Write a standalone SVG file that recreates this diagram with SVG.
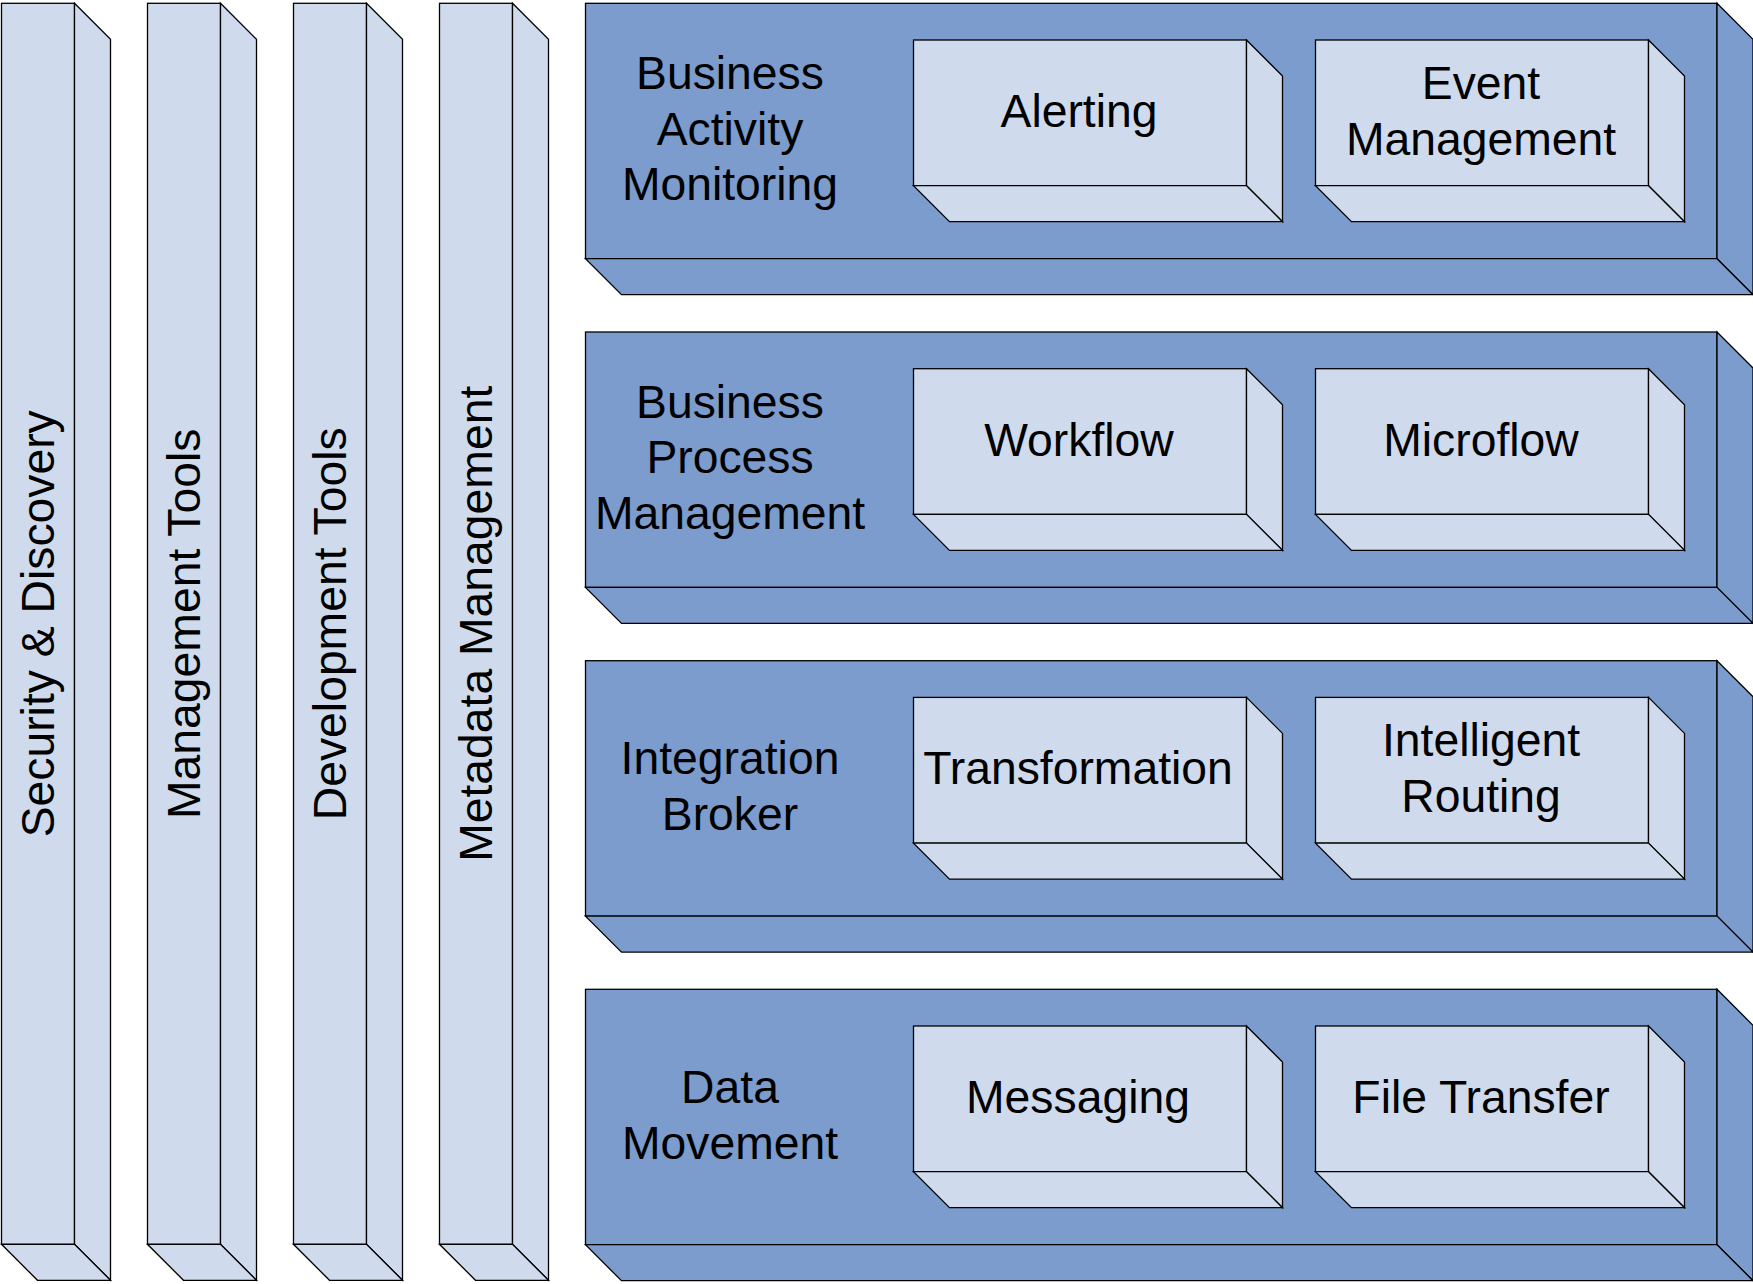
<svg xmlns="http://www.w3.org/2000/svg" width="1753" height="1284" viewBox="0 0 1753 1284">
<style>
.lt{fill:#CFDBEC;stroke:#000;stroke-width:1.3;stroke-linejoin:miter}
.bl{fill:#7B9CCD;stroke:#000;stroke-width:1.3;stroke-linejoin:miter}
.t{font-family:"Liberation Sans",Arial,sans-serif;font-size:46.3px;fill:#000;text-anchor:middle}
</style>
<rect width="1753" height="1284" fill="#fff"/>
<g id="pillar-security">
<rect class="lt" x="1.5" y="3.3" width="73" height="1241"/>
<polygon class="lt" points="74.5,3.3 110.5,39.3 110.5,1280.3 74.5,1244.3"/>
<polygon class="lt" points="1.5,1244.3 74.5,1244.3 110.5,1280.3 37.5,1280.3"/>
<text class="t" transform="translate(53.5,623.8) rotate(-90)">Security &amp; Discovery</text>
</g>
<g id="pillar-management">
<rect class="lt" x="147.5" y="3.3" width="73" height="1241"/>
<polygon class="lt" points="220.5,3.3 256.5,39.3 256.5,1280.3 220.5,1244.3"/>
<polygon class="lt" points="147.5,1244.3 220.5,1244.3 256.5,1280.3 183.5,1280.3"/>
<text class="t" transform="translate(199.5,623.8) rotate(-90)">Management Tools</text>
</g>
<g id="pillar-development">
<rect class="lt" x="293.5" y="3.3" width="73" height="1241"/>
<polygon class="lt" points="366.5,3.3 402.5,39.3 402.5,1280.3 366.5,1244.3"/>
<polygon class="lt" points="293.5,1244.3 366.5,1244.3 402.5,1280.3 329.5,1280.3"/>
<text class="t" transform="translate(345.5,623.8) rotate(-90)">Development Tools</text>
</g>
<g id="pillar-metadata">
<rect class="lt" x="439.5" y="3.3" width="73" height="1241"/>
<polygon class="lt" points="512.5,3.3 548.5,39.3 548.5,1280.3 512.5,1244.3"/>
<polygon class="lt" points="439.5,1244.3 512.5,1244.3 548.5,1280.3 475.5,1280.3"/>
<text class="t" transform="translate(491.5,623.8) rotate(-90)">Metadata Management</text>
</g>

<g id="layer-bam">
<rect class="bl" x="585.5" y="3.3" width="1131.5" height="255.4"/>
<polygon class="bl" points="1717,3.3 1753,39.3 1753,294.7 1717,258.7"/>
<polygon class="bl" points="585.5,258.7 1717,258.7 1753,294.7 621.5,294.7"/>
<text class="t" x="730" y="89">Business</text>
<text class="t" x="730" y="144.5">Activity</text>
<text class="t" x="730" y="200">Monitoring</text>
</g>
<g id="box-alerting">
<rect class="lt" x="913.5" y="40" width="333" height="145.7"/>
<polygon class="lt" points="1246.5,40 1282.5,76 1282.5,221.7 1246.5,185.7"/>
<polygon class="lt" points="913.5,185.7 1246.5,185.7 1282.5,221.7 949.5,221.7"/>
<text class="t" x="1079" y="127">Alerting</text>
</g>
<g id="box-event">
<rect class="lt" x="1315.5" y="40" width="333" height="145.7"/>
<polygon class="lt" points="1648.5,40 1684.5,76 1684.5,221.7 1648.5,185.7"/>
<polygon class="lt" points="1315.5,185.7 1648.5,185.7 1684.5,221.7 1351.5,221.7"/>
<text class="t" x="1481" y="99">Event</text>
<text class="t" x="1481" y="154.5">Management</text>
</g>

<g id="layer-bpm">
<rect class="bl" x="585.5" y="332" width="1131.5" height="255.4"/>
<polygon class="bl" points="1717,332 1753,368 1753,623.4 1717,587.4"/>
<polygon class="bl" points="585.5,587.4 1717,587.4 1753,623.4 621.5,623.4"/>
<text class="t" x="730" y="417.7">Business</text>
<text class="t" x="730" y="473.2">Process</text>
<text class="t" x="730" y="528.7">Management</text>
</g>
<g id="box-workflow">
<rect class="lt" x="913.5" y="368.7" width="333" height="145.7"/>
<polygon class="lt" points="1246.5,368.7 1282.5,404.7 1282.5,550.4 1246.5,514.4"/>
<polygon class="lt" points="913.5,514.4 1246.5,514.4 1282.5,550.4 949.5,550.4"/>
<text class="t" x="1079" y="455.7">Workflow</text>
</g>
<g id="box-microflow">
<rect class="lt" x="1315.5" y="368.7" width="333" height="145.7"/>
<polygon class="lt" points="1648.5,368.7 1684.5,404.7 1684.5,550.4 1648.5,514.4"/>
<polygon class="lt" points="1315.5,514.4 1648.5,514.4 1684.5,550.4 1351.5,550.4"/>
<text class="t" x="1481" y="455.7">Microflow</text>
</g>

<g id="layer-broker">
<rect class="bl" x="585.5" y="660.7" width="1131.5" height="255.4"/>
<polygon class="bl" points="1717,660.7 1753,696.7 1753,952.1 1717,916.1"/>
<polygon class="bl" points="585.5,916.1 1717,916.1 1753,952.1 621.5,952.1"/>
<text class="t" x="730" y="774.3">Integration</text>
<text class="t" x="730" y="829.8">Broker</text>
</g>
<g id="box-transformation">
<rect class="lt" x="913.5" y="697.4" width="333" height="145.7"/>
<polygon class="lt" points="1246.5,697.4 1282.5,733.4 1282.5,879.1 1246.5,843.1"/>
<polygon class="lt" points="913.5,843.1 1246.5,843.1 1282.5,879.1 949.5,879.1"/>
<text class="t" x="1078" y="784.4">Transformation</text>
</g>
<g id="box-routing">
<rect class="lt" x="1315.5" y="697.4" width="333" height="145.7"/>
<polygon class="lt" points="1648.5,697.4 1684.5,733.4 1684.5,879.1 1648.5,843.1"/>
<polygon class="lt" points="1315.5,843.1 1648.5,843.1 1684.5,879.1 1351.5,879.1"/>
<text class="t" x="1481" y="756.4">Intelligent</text>
<text class="t" x="1481" y="811.9">Routing</text>
</g>

<g id="layer-data">
<rect class="bl" x="585.5" y="989.3" width="1131.5" height="255.4"/>
<polygon class="bl" points="1717,989.3 1753,1025.3 1753,1280.7 1717,1244.7"/>
<polygon class="bl" points="585.5,1244.7 1717,1244.7 1753,1280.7 621.5,1280.7"/>
<text class="t" x="730" y="1103">Data</text>
<text class="t" x="730" y="1158.5">Movement</text>
</g>
<g id="box-messaging">
<rect class="lt" x="913.5" y="1026" width="333" height="145.7"/>
<polygon class="lt" points="1246.5,1026 1282.5,1062 1282.5,1207.7 1246.5,1171.7"/>
<polygon class="lt" points="913.5,1171.7 1246.5,1171.7 1282.5,1207.7 949.5,1207.7"/>
<text class="t" x="1078" y="1113">Messaging</text>
</g>
<g id="box-filetransfer">
<rect class="lt" x="1315.5" y="1026" width="333" height="145.7"/>
<polygon class="lt" points="1648.5,1026 1684.5,1062 1684.5,1207.7 1648.5,1171.7"/>
<polygon class="lt" points="1315.5,1171.7 1648.5,1171.7 1684.5,1207.7 1351.5,1207.7"/>
<text class="t" x="1481" y="1113">File Transfer</text>
</g>
<g id="connectors"/>
</svg>
